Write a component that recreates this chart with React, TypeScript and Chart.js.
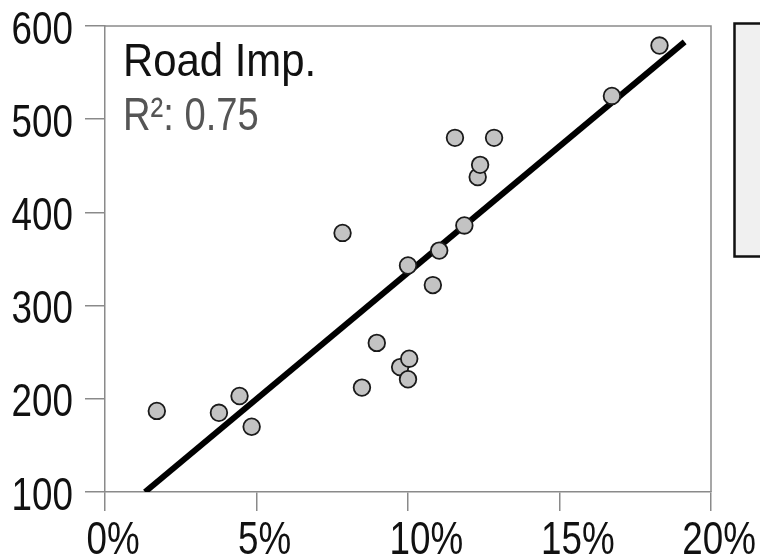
import { useEffect, useRef } from "react";
import { Chart, registerables } from "chart.js";

Chart.register(...registerables);

// Share of spending (%) vs. road import value
const importShare = [
  1.71, 3.76, 4.44, 4.84, 7.84, 8.48, 8.97, 9.74, 10.04, 10.0,
  10.0, 10.82, 11.03, 11.55, 11.86, 12.3, 12.38, 12.84, 16.73, 18.3,
];
const importValue = [
  187, 185, 203, 170, 378, 212, 260, 234, 243, 221,
  343, 322, 359, 480, 386, 438, 451, 480, 525, 579,
];

// Fitted trend line endpoints
const trendX = [1.32, 19.13];
const trendY = [100, 583];

const xTickValues = [0, 5, 10, 15, 20];
const yTickValues = [100, 200, 300, 400, 500, 600];

const panelTitle = "Road Imp.";
const fitLabel = "R²: 0.75";

const FONT = '"Liberation Sans", Arial, sans-serif';
const AXIS_GRAY = "#8a8a8a";

// draws text squeezed horizontally to get a condensed face
function condensedText(
  ctx: CanvasRenderingContext2D,
  text: string,
  x: number,
  y: number,
  size: number,
  squeeze: number,
  align: CanvasTextAlign,
  color: string
) {
  ctx.save();
  ctx.font = `${size}px ${FONT}`;
  ctx.fillStyle = color;
  ctx.textAlign = align;
  ctx.textBaseline = "alphabetic";
  ctx.translate(x, y);
  ctx.scale(squeeze, 1);
  ctx.fillText(text, 0, 0);
  ctx.restore();
}

function condensedWidth(ctx: CanvasRenderingContext2D, text: string, size: number, squeeze: number) {
  ctx.save();
  ctx.font = `${size}px ${FONT}`;
  const w = ctx.measureText(text).width * squeeze;
  ctx.restore();
  return w;
}

const overlay = {
  id: "panelOverlay",
  afterDraw(chart: any) {
    const { ctx, chartArea, scales } = chart;
    const { left, right, top, bottom } = chartArea;
    ctx.save();

    // top and right frame of the plot area
    ctx.strokeStyle = AXIS_GRAY;
    ctx.lineWidth = 1.5;
    ctx.beginPath();
    ctx.moveTo(left, top);
    ctx.lineTo(right, top);
    ctx.lineTo(right, bottom);
    ctx.stroke();
    ctx.restore();

    const AX_SIZE = 46;
    const AX_SQ = 0.8;

    // y tick labels
    const ys = scales.y;
    ys.ticks.forEach((t: any) => {
      const py = ys.getPixelForValue(t.value);
      condensedText(ctx, String(t.value), left - 32, py + 17.5, AX_SIZE, AX_SQ, "right", "#111");
    });

    // x tick labels, anchored just before each tick
    const xs = scales.x;
    xs.ticks.forEach((t: any) => {
      const label = `${t.value}%`;
      const px = xs.getPixelForValue(t.value);
      const w = condensedWidth(ctx, label, AX_SIZE, AX_SQ);
      const x0 = Math.min(px - 18.5, chart.width - 4 - w);
      condensedText(ctx, label, x0, 554, AX_SIZE, AX_SQ, "left", "#111");
    });

    // panel heading and fit statistic
    condensedText(ctx, panelTitle, left + 18, top + 50, 46, 0.91, "left", "#111");
    condensedText(ctx, fitLabel, left + 18, top + 104, 46, 0.83, "left", "#555");

    // legend panel at the right edge
    ctx.save();
    ctx.fillStyle = "#f0f0f0";
    ctx.fillRect(734.5, 23.5, 40, 233);
    ctx.strokeStyle = "#111";
    ctx.lineWidth = 2.5;
    ctx.strokeRect(734.5, 23.5, 40, 233);
    ctx.restore();
  },
};

export default function App() {
  const canvasRef = useRef<HTMLCanvasElement | null>(null);

  useEffect(() => {
    document.body.style.margin = "0";
    const canvas = canvasRef.current;
    if (!canvas) return;

    const points = importShare.map((x, i) => ({ x, y: importValue[i] }));
    const trend = trendX.map((x, i) => ({ x, y: trendY[i] }));

    const chart = new Chart(canvas, {
      type: "scatter",
      data: {
        datasets: [
          {
            type: "scatter",
            label: "Road Imp.",
            data: points,
            order: 1,
            pointRadius: 8.3,
            pointHoverRadius: 8.3,
            pointBackgroundColor: "#c3c3c3",
            pointBorderColor: "#1a1a1a",
            pointBorderWidth: 1.8,
          },
          {
            type: "line",
            label: "Trend",
            data: trend,
            order: 2,
            borderColor: "#000",
            borderWidth: 6,
            pointRadius: 0,
            fill: false,
          },
        ],
      },
      options: {
        responsive: false,
        animation: false,
        devicePixelRatio: 1,
        layout: {
          autoPadding: false,
          padding: { top: 26, right: 49, left: 0, bottom: 0 },
        },
        plugins: {
          legend: { display: false },
          tooltip: { enabled: false },
        },
        scales: {
          x: {
            type: "linear",
            min: 0,
            max: 20,
            afterBuildTicks: (s: any) => {
              s.ticks = xTickValues.map((v) => ({ value: v }));
            },
            afterFit: (s: any) => {
              s.height = 67;
              s.paddingLeft = 0;
              s.paddingRight = 0;
            },
            ticks: { display: false },
            grid: {
              drawOnChartArea: false,
              drawTicks: true,
              tickLength: 19,
              color: AXIS_GRAY,
              lineWidth: 1.5,
            },
            border: { display: true, color: AXIS_GRAY, width: 1.5 },
          },
          y: {
            type: "linear",
            min: 100,
            max: 600,
            afterBuildTicks: (s: any) => {
              s.ticks = yTickValues.map((v) => ({ value: v }));
            },
            afterFit: (s: any) => {
              s.width = 105;
              s.paddingTop = 0;
              s.paddingBottom = 0;
            },
            ticks: { display: false },
            grid: {
              drawOnChartArea: false,
              drawTicks: true,
              tickLength: 20,
              color: AXIS_GRAY,
              lineWidth: 1.5,
            },
            border: { display: true, color: AXIS_GRAY, width: 1.5 },
          },
        },
      },
      plugins: [overlay],
    });

    return () => chart.destroy();
  }, []);

  return <canvas ref={canvasRef} width={760} height={559} style={{ display: "block" }} />;
}
